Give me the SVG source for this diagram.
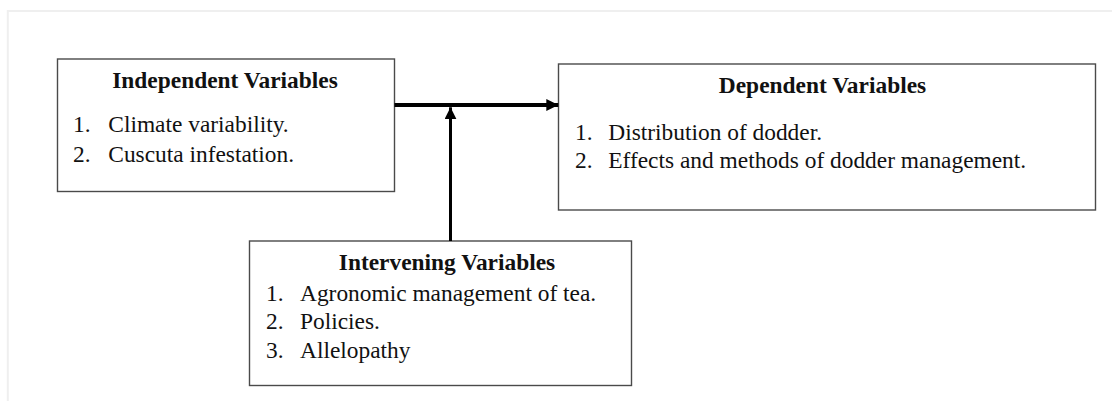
<svg xmlns="http://www.w3.org/2000/svg" width="1112" height="401" viewBox="0 0 1112 401">
<defs>
<style>
.box{fill:#fff;stroke:#4a4a4a;stroke-width:1.4}
.t{font-family:"Liberation Serif","Times New Roman",serif;font-size:23.4px;fill:#111}
.h{font-weight:bold;text-anchor:middle}
.ln{stroke:#000;fill:none}
</style>
<marker id="ah" viewBox="0 0 12 12" refX="12" refY="6" markerWidth="12" markerHeight="12" markerUnits="userSpaceOnUse" orient="auto">
<path d="M0,0 L12,6 L0,12 Z" fill="#000"/>
</marker>
</defs>
<rect width="1112" height="401" fill="#fff"/>
<path d="M7.8,401 V11 H1112" fill="none" stroke="#efefef" stroke-width="2"/>
<g id="independent">
<rect class="box" x="57.5" y="59" width="337" height="132.5"/>
<text class="t h" x="225" y="88.3">Independent Variables</text>
<text class="t" x="73" y="131.7">1.</text>
<text class="t" x="108.3" y="131.7">Climate variability.</text>
<text class="t" x="73" y="161.7">2.</text>
<text class="t" x="108.3" y="161.7">Cuscuta infestation.</text>
</g>
<g id="dependent">
<rect class="box" x="558.5" y="64" width="537" height="146"/>
<text class="t h" x="822.5" y="93.3">Dependent Variables</text>
<text class="t" x="575" y="140">1.</text>
<text class="t" x="608.3" y="140">Distribution of dodder.</text>
<text class="t" x="575" y="168.3">2.</text>
<text class="t" x="608.3" y="168.3">Effects and methods of dodder management.</text>
</g>
<g id="intervening">
<rect class="box" x="249.5" y="241" width="382" height="144.5"/>
<text class="t h" x="447" y="270">Intervening Variables</text>
<text class="t" x="266" y="300.7">1.</text>
<text class="t" x="300" y="300.7">Agronomic management of tea.</text>
<text class="t" x="266" y="329.3">2.</text>
<text class="t" x="300" y="329.3">Policies.</text>
<text class="t" x="266" y="358.3">3.</text>
<text class="t" x="300" y="358.3">Allelopathy</text>
</g>
<g id="connectors">
<line class="ln" x1="394.5" y1="105" x2="558.3" y2="105" stroke-width="4" marker-end="url(#ah)"/>
<line class="ln" x1="450.5" y1="241" x2="450.5" y2="107.3" stroke-width="3" marker-end="url(#ah)"/>
</g>
</svg>
